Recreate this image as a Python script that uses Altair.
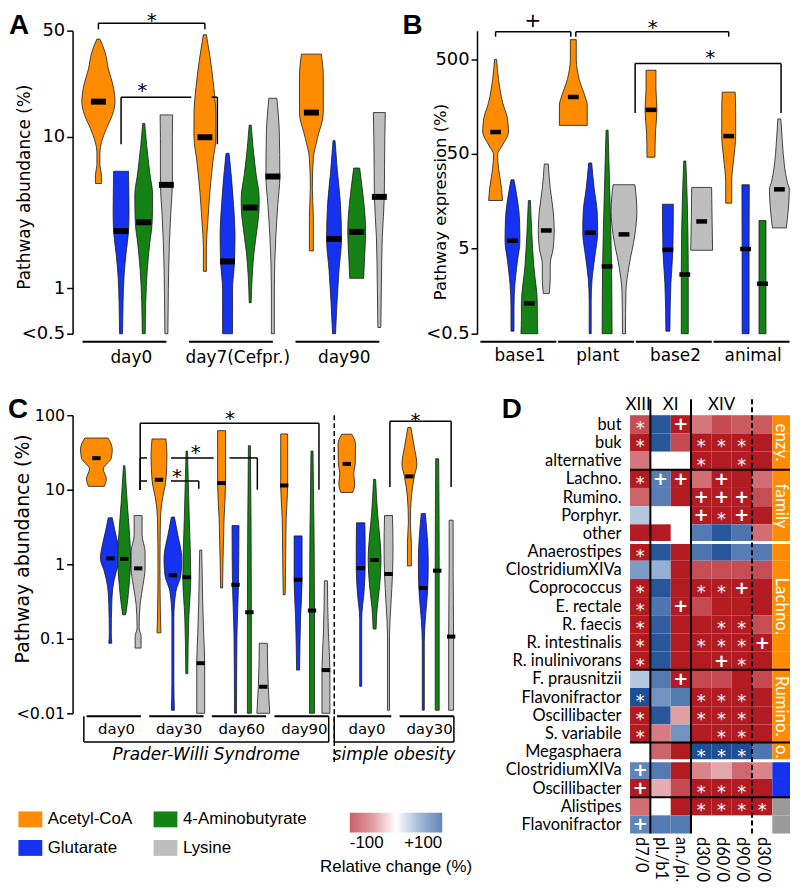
import json
import altair as alt
import pandas as pd

# ---------------------------------------------------------------- data
PATHWAYS = ["Acetyl-CoA", "Glutarate", "4-Aminobutyrate", "Lysine"]

# Panel A  (value, half-width of violin)
A_GROUPS = ["day0", "day7(Cefpr.)", "day90"]
A_MEDIANS = [[17.0, 2.38, 2.72, 4.8], [9.9, 1.5, 3.4, 5.45], [14.4, 2.11, 2.35, 4.0]]
A_SHAPES = [
    [
        [(4.9, 3), (5.6, 3), (6.5, 1.5), (7.9, 1.5), (9.1, 3), (11.3, 8), (13.9, 14), (17, 16.7), (21.3, 15), (28, 10), (36, 6.7), (44, 1.5)],
        [(0.5, 1.5), (0.8, 2), (1.2, 3), (1.69, 5), (2.38, 7.5), (3.2, 8), (4.3, 7.8), (5.9, 7.5)],
        [(0.5, 1.5), (0.8, 2), (1.3, 3.5), (1.96, 6), (2.72, 8.5), (4.1, 9), (5.8, 6), (8.7, 3), (12.2, 1)],
        [(0.5, 1.5), (1.0, 2), (1.96, 3), (3.2, 4.5), (4.8, 6), (9.7, 6), (13.9, 6.3)],
    ],
    [
        [(1.29, 1.5), (1.87, 1.5), (2.77, 3), (4.3, 5), (6.8, 8), (9.9, 11), (13.9, 11), (21, 9), (34, 5), (47, 1.5)],
        [(0.5, 5), (0.67, 5), (0.97, 5), (1.5, 7), (2.28, 7.5), (3.56, 6), (5.3, 4), (7.75, 1.5)],
        [(0.8, 1), (1.2, 2), (1.76, 4), (2.64, 7.5), (3.4, 9), (3.96, 9), (5.6, 6), (8.3, 3), (11.9, 1)],
        [(0.5, 1.5), (1.0, 1.5), (2.2, 3), (3.56, 5), (5.45, 7), (10.6, 6.5), (17.9, 4)],
    ],
    [
        [(1.76, 2), (2.93, 2), (4.6, 1), (7.2, 2), (9.7, 6), (14.4, 12), (25, 12), (35, 10)],
        [(0.5, 1.5), (0.8, 3), (1.31, 5), (2.11, 7.5), (3.56, 6.5), (5.8, 3.5), (9.4, 1)],
        [(1.16, 7), (1.61, 8), (2.35, 9), (2.93, 8.5), (4.3, 6), (6.2, 3)],
        [(0.55, 1.5), (1.0, 2), (2.2, 3), (4.0, 5), (9.7, 5.5), (14.4, 6)],
    ],
]

# Panel B
B_GROUPS = ["base1", "plant", "base2", "animal"]
B_MEDIANS = [[85, 6.0, 1.3, 7.7], [200, 7.3, 3.2, 7.0], [146, 4.8, 2.63, 9.6], [77, 4.9, 2.1, 21]]
B_SHAPES = [
    [
        [(16, 7), (21.5, 6), (35, 3), (49, 2), (62, 7), (85, 13), (117, 12), (176, 7), (307, 3), (500, 1)],
        [(0.66, 1.5), (1.16, 1.5), (2.1, 2.5), (3.65, 5), (6.0, 7.5), (10.4, 7), (18.9, 4), (26.5, 1.5)],
        [(0.62, 8.5), (0.93, 8), (1.3, 8), (3.2, 4.5), (7.0, 2.5), (16, 1)],
        [(1.65, 3), (2.4, 4), (3.4, 4), (5.0, 7), (7.7, 8), (12.3, 7), (21.5, 4), (39, 2)],
    ],
    [
        [(100, 14), (165, 14), (200, 12), (307, 6), (500, 3), (810, 3)],
        [(0.62, 1), (1.38, 1), (2.4, 2), (4.3, 5), (7.3, 7.5), (12.3, 7), (21.5, 4), (40, 1.5)],
        [(0.62, 5), (3.2, 4.5), (15.6, 3), (89, 1)],
        [(0.62, 1.5), (1.76, 2), (3.2, 5), (7.0, 11), (12.3, 13), (23.5, 11)],
    ],
    [
        [(46, 4), (85, 4.5), (146, 6), (242, 5), (384, 5)],
        [(0.66, 2), (2.1, 3), (4.8, 5), (14.6, 5.5)],
        [(0.62, 3.5), (2.63, 3.5), (15.6, 2.5), (42, 1)],
        [(4.75, 11), (9.6, 10.5), (22, 10)],
    ],
    [
        [(15, 3), (25, 3), (44, 5), (77, 7), (138, 7), (225, 6.5)],
        [(0.62, 3.5), (4.9, 3.5), (23.5, 3.7)],
        [(0.62, 3.5), (2.1, 3.5), (9.8, 3.5)],
        [(8.2, 7), (13, 9), (21, 10), (25, 8), (38, 5), (67, 3), (117, 1.5)],
    ],
]

# Panel C
C_GROUPS = ["day0", "day30", "day60", "day90", "day0", "day30"]
C_COHORTS = ["Prader-Willi Syndrome"] * 4 + ["simple obesity"] * 2
C_MEDIANS = [
    [26.5, 1.2, 1.18, 0.88], [13.6, 0.71, 0.67, 0.047], [12.3, 0.53, 0.227, 0.0227],
    [11.4, 0.62, 0.239, 0.038], [22.2, 0.885, 1.14, 0.74], [15.1, 0.48, 0.82, 0.107],
]
C_SHAPES = [
    [
        [(11.1, 8), (14, 10), (19, 7), (26.5, 15), (35, 16), (49.4, 11.7)],
        [(0.087, 1.5), (0.12, 1), (0.29, 1.5), (0.48, 2.5), (0.8, 6), (1.2, 10), (1.8, 8), (2.7, 5), (4.2, 2)],
        [(0.21, 1.5), (0.29, 3), (0.53, 5), (1.18, 6.5), (3.0, 5), (6.85, 3), (21, 0.7)],
        [(0.075, 3), (0.107, 3), (0.14, 1), (0.29, 2), (0.53, 5), (0.88, 7), (1.48, 7), (2.46, 4), (4.5, 4)],
    ],
    [
        [(0.12, 2), (0.19, 1.5), (0.885, 1), (4.1, 1.5), (6.85, 3), (13.6, 7), (29, 8), (48, 7)],
        [(0.011, 1.5), (0.025, 1), (0.19, 1), (0.43, 3), (0.71, 8), (1.2, 9), (2.46, 5), (4.3, 1.5)],
        [(0.034, 1), (0.19, 2), (0.67, 4), (4.1, 2.5), (33, 0.7)],
        [(0.01, 4), (0.047, 4), (0.114, 3), (0.32, 2), (1.55, 1)],
    ],
    [
        [(0.48, 1), (1.2, 1.5), (4.1, 2.5), (12.3, 4), (32, 4), (62, 4)],
        [(0.01, 1), (0.114, 1.5), (0.53, 3), (3.3, 3.5)],
        [(0.01, 2), (0.227, 2), (39, 1)],
        [(0.01, 6.5), (0.0227, 5), (0.087, 4)],
    ],
    [
        [(0.39, 1), (1.2, 1.5), (4.1, 2), (11.4, 3.5), (32, 3.5), (56, 3.5)],
        [(0.038, 1.5), (0.19, 2.5), (0.62, 4), (2.4, 4)],
        [(0.01, 2.5), (0.239, 2.5), (33, 1)],
        [(0.01, 4), (0.038, 4), (0.12, 2.5), (0.6, 1.5)],
    ],
    [
        [(9.2, 6), (12, 8), (16.5, 7), (22.2, 8.5), (41, 8.8), (55.6, 5)],
        [(0.023, 1), (0.18, 1), (0.45, 3.5), (0.885, 4.5), (1.7, 4.5), (3.6, 4.2)],
        [(0.135, 1.5), (0.25, 2.5), (0.5, 5), (1.14, 6.5), (1.7, 6), (4.8, 3), (13.8, 1)],
        [(0.011, 1), (0.11, 1), (0.3, 2.5), (0.74, 4), (1.7, 4.5), (4.5, 4)],
    ],
    [
        [(0.95, 2), (1.9, 2), (3.7, 1), (8, 2), (15.1, 5), (22, 7.5), (37, 5), (68.5, 1.5)],
        [(0.011, 1), (0.089, 1), (0.18, 2), (0.48, 4.5), (1.14, 5), (2.34, 4), (4.8, 2)],
        [(0.011, 2), (0.82, 2), (26, 1.5)],
        [(0.011, 2.5), (0.107, 2.5), (0.84, 2), (3.9, 2)],
    ],
]

# Panel D heatmap (relative change %, None = not available)
HEAT_ROWS = ["but", "buk", "alternative", "Lachno.", "Rumino.", "Porphyr.", "other",
             "Anaerostipes", "ClostridiumXIVa", "Coprococcus", "E. rectale", "R. faecis",
             "R. intestinalis", "R. inulinivorans", "F. prausnitzii", "Flavonifractor",
             "Oscillibacter", "S. variabile", "Megasphaera", "ClostridiumXIVa",
             "Oscillibacter", "Alistipes", "Flavonifractor"]
HEAT_COLS = ["d7/0", "pl./b1", "an./pl.", "d30/0", "d60/0", "d90/0", "d30/0"]
HEAT_VALUES = [
    [-72, 95, -100, -50, -75, -65, -65],
    [-100, 95, -75, -100, -100, -100, -100],
    [-50, None, None, -100, -100, -100, -100],
    [-100, 70, -100, -55, -100, -100, -55],
    [-60, 70, -100, -100, -100, -100, -72],
    [28, None, None, -100, -100, -100, -100],
    [-100, -100, None, 72, 95, 75, -55],
    [-100, 95, -100, 75, 95, 70, 72],
    [50, 40, -100, -72, -72, -72, -72],
    [-100, 95, -100, -100, -100, -100, -100],
    [-100, 75, -100, -75, -100, -100, -100],
    [-100, 90, -100, -100, -100, -100, -72],
    [-100, 95, -100, -100, -100, -100, -100],
    [-100, 95, -100, -100, -100, -100, -100],
    [28, 72, -100, -75, -75, -100, -75],
    [100, 55, 72, -100, -100, -100, -100],
    [-100, 95, -35, -100, -100, -100, -100],
    [-100, -48, 55, -100, -100, -100, -100],
    [None, -60, -100, 100, 100, 100, 75],
    [65, 72, -100, -45, -32, -58, -45],
    [-100, -30, -75, -100, -100, -100, -100],
    [-55, None, -100, -100, -100, -100, -100],
    [65, 72, 72, None, None, None, None],
]
HEAT_SIG = ["*.+....", "*..***.", "...*.*.", "*++.+..", "...+++.", "...+*+.", ".......",
            "*......", ".......", "*..**+.", "*.+....", "*...**.", "*..***+", "*...+*.",
            "..+....", "*..***.", "*..***.", "*...**.", "...***.", "+......", "+..***.",
            "...****", "+......"]
HEAT_PATHWAY = ["Acetyl-CoA"] * 19 + ["Glutarate"] * 2 + ["Lysine"] * 2
STRIP_LABELS = [("enzy.", 0, 3), ("family", 3, 7), ("Lachno.", 7, 14), ("Rumino.", 14, 18), ("o.", 18, 19)]
SEP_BLACK = [3, 14, 18, 21]
SEP_WHITE = [7, 19]
COL_HEADERS = [("XIII", -0.2, 1), ("XI", 1, 3), ("XIV", 3, 6)]
COL_SOLID = [1, 3]
COL_DASHED = [6]

# ---------------------------------------------------------------- style
FONT = "DejaVu Sans"
ARIAL = "Liberation Sans"
LATO = "Lato"
PATH_COLORS = ["#FF8C00", "#1432F0", "#148214", "#BEBEBE"]   # PATHWAYS order
STRIP_COLORS = ["#FF8C00", "#1432F0", "#148214", "#9A9A9A"]  # PATHWAYS order
HEAT_DOMAIN = [-100, -50, 0, 50, 100]
HEAT_RANGE = ["#B31B23", "#D4767C", "#FFFFFF", "#7C9CC8", "#1F4E96"]
RECT = "M-1.5,-1H1.5V1H-1.5Z"


def pscale():
    return alt.Scale(domain=PATHWAYS, range=PATH_COLORS)


def hscale():
    return alt.Scale(domain=HEAT_DOMAIN, range=HEAT_RANGE, interpolate="rgb")


def letter(t, x, y):
    return alt.Chart(pd.DataFrame({"t": [t]})).mark_text(
        font=ARIAL, fontSize=28, fontWeight="bold", align="left", baseline="top"
    ).encode(text="t:N", x=alt.value(x), y=alt.value(y))


def violin_layers(groups, shapes, medians, gap, ppu, mhw, medw, xs, ys, yaxis, legend=None):
    arows, mrows = [], []
    for g in range(len(groups)):
        for p, pw in enumerate(PATHWAYS):
            cx = g * gap + p
            for v, hw in shapes[g][p]:
                arows.append({"vid": f"{g}_{p}", "pathway": pw, "v": v,
                              "lo": cx - hw / ppu, "hi": cx + hw / ppu})
            mrows.append({"v": medians[g][p], "lo": cx - mhw, "hi": cx + mhw})
    areas = alt.Chart(pd.DataFrame(arows)).mark_area(
        orient="horizontal", interpolate="monotone", stroke="#1a1a1a", strokeWidth=0.8, opacity=1
    ).encode(
        y=alt.Y("v:Q", scale=ys, axis=yaxis),
        x=alt.X("lo:Q", scale=xs, axis=None),
        x2="hi:Q",
        color=alt.Color("pathway:N", scale=pscale(), legend=legend),
        detail="vid:N",
    )
    meds = alt.Chart(pd.DataFrame(mrows)).mark_rule(color="black", strokeWidth=medw).encode(
        y=alt.Y("v:Q", scale=ys, axis=yaxis),
        x=alt.X("lo:Q", scale=xs, axis=None),
        x2="hi:Q",
    )
    return [areas, meds]


def bracket(x1, x2, level, foot1, foot2, gaps=()):
    segs = [(x1, foot1, x1, level), (x2, foot2, x2, level)]
    xs = [x1]
    for a, b in gaps:
        xs += [a, b]
    xs.append(x2)
    for i in range(0, len(xs), 2):
        segs.append((xs[i], level, xs[i + 1], level))
    return segs


def bracket_layers(segs, stars, xs, ys, yaxis, fs=20):
    df = pd.DataFrame(segs, columns=["x1", "v", "x2", "v2"])
    rules = alt.Chart(df).mark_rule(color="black", strokeWidth=1.5).encode(
        x=alt.X("x1:Q", scale=xs, axis=None), x2="x2:Q",
        y=alt.Y("v:Q", scale=ys, axis=yaxis), y2="v2:Q")
    sdf = pd.DataFrame(stars, columns=["x", "v", "t"])
    txt = alt.Chart(sdf).mark_text(font=FONT, fontSize=fs, baseline="middle").encode(
        x=alt.X("x:Q", scale=xs, axis=None), y=alt.Y("v:Q", scale=ys, axis=yaxis), text="t:N")
    return [rules, txt]


def group_layers(groups, gap, lo, hi, xs, line_y, lab_y, fs):
    df = pd.DataFrame({"label": groups,
                       "x1": [g * gap + lo for g in range(len(groups))],
                       "x2": [g * gap + hi for g in range(len(groups))],
                       "xc": [g * gap + 1.45 for g in range(len(groups))]})
    line = alt.Chart(df).mark_rule(color="black", strokeWidth=2).encode(
        x=alt.X("x1:Q", scale=xs, axis=None), x2="x2:Q", y=alt.value(line_y))
    labs = alt.Chart(df).mark_text(font=FONT, fontSize=fs, baseline="middle").encode(
        x=alt.X("xc:Q", scale=xs, axis=None), y=alt.value(lab_y), text="label:N")
    return [line, labs]


AX = dict(grid=False, domainColor="black", tickColor="black", labelColor="black",
          titleColor="black", domainWidth=1.5, tickWidth=1.5, tickSize=6, labelPadding=2,
          labelFont=FONT, titleFont=FONT, titleFontWeight="normal", titleBaseline="bottom",
          titleAngle=-90, labelFlush=False, labelOverlap=False)

# ---------------------------------------------------------------- panel A
AW, AH, AGAP, APPU = 318, 305, 4.7, 22.8
xsA = alt.Scale(domain=[-1.14, -1.14 + AW / APPU], nice=False, zero=False)
ysA = alt.Scale(type="log", domain=[0.5, 50], nice=False)
axA = alt.Axis(values=[0.5, 1, 10, 50], labelExpr="datum.value <= 0.5 ? '<0.5' : toString(datum.value)",
               title="Pathway abundance (%)", labelFontSize=18, titleFontSize=17,
               titleX=-39, titleY=157, **AX)
sA = lambda g, p: g * AGAP + p
A_BR = bracket(sA(0, 0), sA(1, 0), 56, 51, 51) + \
    bracket(sA(0, 1), sA(1, 1) - 0.45, 18.2, 8.9, 8.9, gaps=[(sA(1, 0) - 0.6, sA(1, 0) + 0.3)])
A_ST = [((sA(0, 0) + sA(1, 0)) / 2, 57.5, "*"), (1.93, 20.0, "*")]
panelA = alt.layer(
    *violin_layers(A_GROUPS, A_SHAPES, A_MEDIANS, AGAP, APPU, 0.33, 6, xsA, ysA, axA),
    *bracket_layers(A_BR, A_ST, xsA, ysA, axA),
    *group_layers(A_GROUPS, AGAP, -0.7, 3.0, xsA, AH + 8, AH + 24, 17),
    letter("A", -64, -19),
).properties(width=AW, height=AH)

# ---------------------------------------------------------------- panel B
BW, BH, BGAP, BPPU = 315, 305, 4.6, 17.0
xsB = alt.Scale(domain=[-1.1, -1.1 + BW / BPPU], nice=False, zero=False)
ysB = alt.Scale(type="log", domain=[0.62, 1009], nice=False)
axB = alt.Axis(values=[0.62, 5, 50, 500], labelExpr="datum.value < 1 ? '<0.5' : toString(datum.value)",
               title="Pathway expression (%)", labelFontSize=18, titleFontSize=16.5,
               titleX=-29, titleY=172, **AX)
sB = lambda g, p: g * BGAP + p
B_BR = bracket(sB(0, 0), sB(1, 0) - 0.15, 985, 872, 872) + \
    bracket(sB(1, 0) + 0.15, sB(3, 0), 985, 872, 872) + \
    bracket(sB(1, 3) + 0.66, sB(3, 3) + 0.1, 454, 135, 135)
B_ST = [(2.2, 1285, "+"), (9.3, 1066, "*"), (12.7, 516, "*")]
panelB = alt.layer(
    *violin_layers(B_GROUPS, B_SHAPES, B_MEDIANS, BGAP, BPPU, 0.32, 4.5, xsB, ysB, axB),
    *bracket_layers(B_BR, B_ST, xsB, ysB, axB),
    *group_layers(B_GROUPS, BGAP, -0.9, 3.6, xsB, BH + 8, BH + 22, 17),
    letter("B", -75, -19),
).properties(width=BW, height=BH)

# ---------------------------------------------------------------- panel C
CW, CH, CGAP, CPPU = 384, 300, 4.5, 14.0
xsC = alt.Scale(domain=[-1.71, -1.71 + CW / CPPU], nice=False, zero=False)
ysC = alt.Scale(type="log", domain=[0.01, 100], nice=False)
axC = alt.Axis(values=[0.01, 0.1, 1, 10, 100],
               labelExpr="datum.value <= 0.01 ? '<0.01' : toString(datum.value)",
               title="Pathway abundance (%)", labelFontSize=16, titleFontSize=19,
               titleX=-40, titleY=134, **AX)
legC = alt.Legend(orient="none", legendX=-51, legendY=398, columns=2, title=None,
                  symbolType=RECT, symbolSize=256, symbolStrokeWidth=0, symbolOpacity=1,
                  labelFont=ARIAL, labelFontSize=17, labelColor="black", labelOffset=9,
                  columnPadding=20, rowPadding=11, padding=0)
sC = lambda g, p: g * CGAP + p
C_BR = bracket(sC(0, 3) + 0.15, sC(3, 2) + 0.5, 78, 10, 10) + \
    bracket(sC(0, 3) + 0.15, sC(2, 2) + 0.57, 26.7, 10, 10,
            gaps=[(sC(1, 0) - 0.86, sC(1, 0) + 0.86), (sC(2, 0) - 0.57, sC(2, 0) + 0.57)]) + \
    bracket(sC(0, 3) + 0.15, sC(1, 2) + 0.86, 13.1, 10, 10.3,
            gaps=[(sC(1, 0) - 0.86, sC(1, 0) + 0.86)]) + \
    bracket(sC(4, 3) + 0.1, sC(5, 3), 83, 10.9, 10.9)
C_ST = [(sC(2, 0) + 0.6, 89, "*"), (sC(1, 0) + 2.64, 31.4, "*"), (sC(1, 0) + 1.29, 14.6, "*"),
        (sC(5, 0) + 0.43, 83.9, "*")]
C_SEP = 3 * CGAP + 3.6
coh = []
for name in dict.fromkeys(C_COHORTS):
    gs = [g for g, c in enumerate(C_COHORTS) if c == name]
    coh.append({"name": name, "x1": gs[0] * CGAP - 0.9, "x2": gs[-1] * CGAP + 3.2})
cohdf = pd.DataFrame(coh)
cohdf["xc"] = (cohdf["x1"] + cohdf["x2"]) / 2
box_bottom = alt.Chart(cohdf).mark_rule(color="black", strokeWidth=1.5).encode(
    x=alt.X("x1:Q", scale=xsC, axis=None), x2="x2:Q", y=alt.value(CH + 29))
sides = pd.DataFrame({"x": list(cohdf["x1"]) + list(cohdf["x2"])})
box_sides = alt.Chart(sides).mark_rule(color="black", strokeWidth=1.5).encode(
    x=alt.X("x:Q", scale=xsC, axis=None), y=alt.value(CH + 3), y2=alt.value(CH + 29))
coh_text = alt.Chart(cohdf).mark_text(font=FONT, fontSize=17, fontStyle="italic", baseline="middle").encode(
    x=alt.X("xc:Q", scale=xsC, axis=None), y=alt.value(CH + 42), text="name:N")
dash = alt.Chart(pd.DataFrame({"x": [C_SEP]})).mark_rule(color="black", strokeWidth=1.5, strokeDash=[5, 3]).encode(
    x=alt.X("x:Q", scale=xsC, axis=None), y=alt.value(0), y2=alt.value(CH + 50))
grad = alt.Chart(pd.DataFrame({"v": [-100, 100]})).mark_point(size=0, strokeWidth=0).encode(
    x=alt.value(0), y=alt.value(0),
    stroke=alt.Stroke("v:Q", scale=hscale(), legend=alt.Legend(
        orient="none", legendX=279, legendY=400, direction="horizontal", gradientLength=93,
        gradientThickness=20, title=None, values=[-100, 100],
        labelExpr="(datum.value > 0 ? '+' : '-') + toString(abs(datum.value))",
        labelAlign="center", labelFont=ARIAL, labelFontSize=17, labelColor="black",
        gradientStrokeWidth=0, labelOffset=3, padding=0)))
grad_title = alt.Chart(pd.DataFrame({"t": ["Relative change (%)"]})).mark_text(
    font=ARIAL, fontSize=17, align="center", baseline="middle").encode(
    text="t:N", x=alt.value(279 + 46.5), y=alt.value(455))
panelC = alt.layer(
    *violin_layers(C_GROUPS, C_SHAPES, C_MEDIANS, CGAP, CPPU, 0.3, 4, xsC, ysC, axC, legend=legC),
    *bracket_layers(C_BR, C_ST, xsC, ysC, axC),
    *group_layers(C_GROUPS, CGAP, -0.7, 3.2, xsC, CH + 3, CH + 16, 15),
    box_bottom, box_sides, coh_text, dash, grad, grad_title,
    letter("C", -65, -19),
).properties(width=CW, height=CH)

# ---------------------------------------------------------------- panel D
NC, NR, STRIPW = len(HEAT_COLS), len(HEAT_ROWS), 0.87
DW, DH = 161, 421
xsD = alt.Scale(domain=[0, NC + STRIPW], nice=False, zero=False)
ysD = alt.Scale(domain=[0, NR], nice=False, zero=False, reverse=True)
cells, sigs = [], []
for r, row in enumerate(HEAT_VALUES):
    for c, val in enumerate(row):
        if val is not None:
            cells.append({"c1": c, "c2": c + 1, "r1": r, "r2": r + 1, "val": val})
        s = HEAT_SIG[r][c]
        if s != ".":
            sigs.append({"c1": c + 0.5, "r1": r + 0.5, "t": s})
celldf, sigdf = pd.DataFrame(cells), pd.DataFrame(sigs)
xaxD = alt.Axis(values=[c + 0.5 for c in range(NC)], labelExpr=f"{json.dumps(HEAT_COLS)}[floor(datum.value)]",
                labelAngle=90, labelAlign="left", labelBaseline="middle", ticks=False, domain=False,
                labelPadding=3, labelFont=LATO, labelFontSize=16.5, labelColor="black", title=None,
                grid=False, labelFlush=False, labelOverlap=False)
yaxD = alt.Axis(values=[r + 0.5 for r in range(NR)], labelExpr=f"{json.dumps(HEAT_ROWS)}[floor(datum.value)]",
                ticks=False, domain=False, labelPadding=9, labelFont=LATO, labelFontSize=16.5,
                labelColor="black", title=None, grid=False, labelFlush=False, labelOverlap=False)
XD = lambda f: alt.X(f, scale=xsD, axis=xaxD)
YD = lambda f: alt.Y(f, scale=ysD, axis=yaxD)
heat = alt.Chart(celldf).mark_rect(strokeWidth=0).encode(
    x=XD("c1:Q"), x2="c2:Q", y=YD("r1:Q"), y2="r2:Q",
    color=alt.Color("val:Q", scale=hscale(), legend=None))
stripdf = pd.DataFrame({"pathway": HEAT_PATHWAY, "r1": range(NR), "r2": [r + 1 for r in range(NR)],
                        "c1": NC, "c2": NC + STRIPW})
strip = alt.Chart(stripdf).mark_rect(strokeWidth=0).encode(
    x=XD("c1:Q"), x2="c2:Q", y=YD("r1:Q"), y2="r2:Q",
    fill=alt.Fill("pathway:N", scale=alt.Scale(domain=PATHWAYS, range=STRIP_COLORS), legend=None))
sldf = pd.DataFrame([{"t": t, "r1": (a + b) / 2, "c1": NC + STRIPW / 2} for t, a, b in STRIP_LABELS])
strip_text = alt.Chart(sldf).mark_text(font=LATO, fontSize=17, color="white", angle=90,
                                       align="center", baseline="middle").encode(
    x=XD("c1:Q"), y=YD("r1:Q"), text="t:N")


def hsep(rows, color, w):
    df = pd.DataFrame({"r1": rows, "c1": 0, "c2": NC + STRIPW})
    return alt.Chart(df).mark_rule(color=color, strokeWidth=w).encode(
        x=XD("c1:Q"), x2="c2:Q", y=YD("r1:Q"))


vsolid = alt.Chart(pd.DataFrame({"c1": COL_SOLID})).mark_rule(color="black", strokeWidth=2).encode(
    x=XD("c1:Q"), y=alt.value(-16), y2=alt.value(DH))
vdash = alt.Chart(pd.DataFrame({"c1": COL_DASHED})).mark_rule(color="black", strokeWidth=2, strokeDash=[5, 3]).encode(
    x=XD("c1:Q"), y=alt.value(-16), y2=alt.value(DH + 2))
sig_layers = []
for sym, dy, fw in (("*", 5, "normal"), ("+", 1, "bold")):
    sub = sigdf[sigdf["t"] == sym]
    sig_layers.append(alt.Chart(sub).mark_text(font=FONT, fontSize=18, fontWeight=fw, color="white",
                                               baseline="middle", dy=dy).encode(
        x=XD("c1:Q"), y=YD("r1:Q"), text="t:N"))
hdf = pd.DataFrame([{"t": t, "c1": (a + b) / 2} for t, a, b in COL_HEADERS])
headers = alt.Chart(hdf).mark_text(font=LATO, fontSize=17, baseline="middle").encode(
    x=XD("c1:Q"), y=alt.value(-10), text="t:N")
panelD = alt.layer(
    heat, strip, hsep(SEP_BLACK, "black", 2), hsep(SEP_WHITE, "white", 3), vsolid, vdash,
    *sig_layers, strip_text, headers, letter("D", -129, -19),
).properties(width=DW, height=DH)

# ---------------------------------------------------------------- layout
RES = dict(color="independent", fill="independent", stroke="independent")
top = alt.hconcat(panelA, panelB, spacing=12).resolve_scale(**RES)
bottom = alt.hconcat(panelC, panelD, spacing=29).resolve_scale(**RES)
chart = alt.vconcat(top, bottom, spacing=31).resolve_scale(**RES).properties(
    padding=0).configure_view(stroke=None)

chart.save("out.html", embed_options={"renderer": "svg", "actions": False})
